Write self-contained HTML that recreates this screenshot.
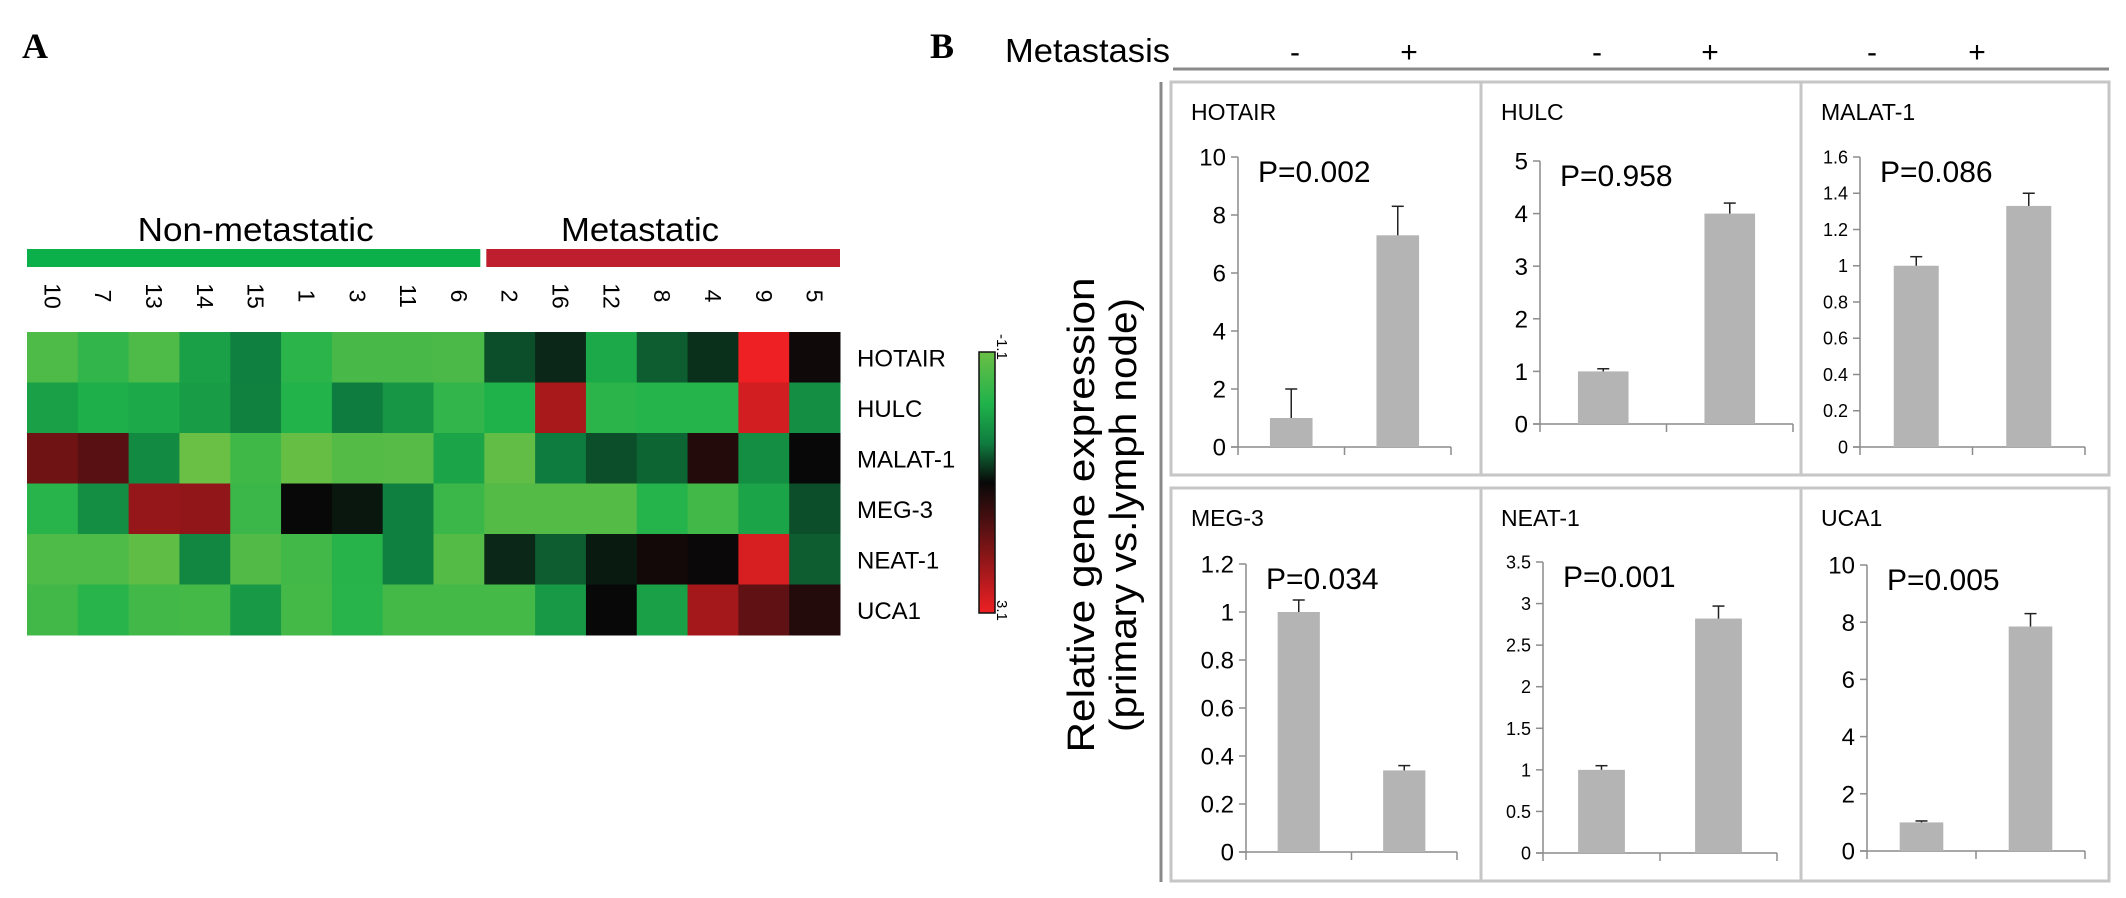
<!DOCTYPE html>
<html><head><meta charset="utf-8"><style>
html,body{margin:0;padding:0;background:#fff;}
svg{display:block;font-family:"Liberation Sans",Arial,sans-serif;}
</style></head><body>
<svg id="fig" width="2126" height="898" viewBox="0 0 2126 898" xmlns="http://www.w3.org/2000/svg">
<rect x="0" y="0" width="2126" height="898" fill="#fff"/>
<text x="22" y="58" font-family="Liberation Serif, serif" font-weight="bold" font-size="36">A</text>
<text x="930" y="58" font-family="Liberation Serif, serif" font-weight="bold" font-size="36">B</text>
<g id="heat"></g>
<g id="bars"></g>
</svg>
<script>
// ---------- Heatmap data ----------
const sampleLabels = ["10","7","13","14","15","1","3","11","6","2","16","12","8","4","9","5"];
const geneLabels = ["HOTAIR","HULC","MALAT-1","MEG-3","NEAT-1","UCA1"];
const rowHOTAIR = [-0.85,-0.7,-0.85,-0.5,-0.32,-0.66,-0.82,-0.82,-0.83,-0.18,-0.08,-0.55,-0.22,-0.1,1.0,0.03];
const rowHULC   = [-0.5,-0.58,-0.55,-0.48,-0.33,-0.62,-0.3,-0.45,-0.7,-0.6,0.7,-0.66,-0.63,-0.63,0.88,-0.4];
const rowMALAT1 = [0.45,0.35,-0.38,-1.0,-0.77,-0.98,-0.88,-0.9,-0.52,-0.95,-0.3,-0.18,-0.24,0.12,-0.4,0.0];
const rowMEG3   = [-0.65,-0.4,0.62,0.6,-0.75,0.0,-0.04,-0.32,-0.75,-0.88,-0.88,-0.88,-0.63,-0.78,-0.52,-0.18];
const rowNEAT1  = [-0.85,-0.85,-0.94,-0.36,-0.87,-0.78,-0.64,-0.32,-0.88,-0.08,-0.22,-0.05,0.05,0.01,0.9,-0.22];
const rowUCA1   = [-0.78,-0.65,-0.78,-0.8,-0.46,-0.8,-0.65,-0.8,-0.8,-0.8,-0.46,0.0,-0.5,0.68,0.38,0.12];
const nonMetCount = 9;

// ---------- Bar chart data ----------
const panelNames = ["HOTAIR","HULC","MALAT-1","MEG-3","NEAT-1","UCA1"];
const axisMax  = [10,5,1.6,1.2,3.5,10];
const axisStep = [2,1,0.2,0.2,0.5,2];
const negMeans = [1.0,1.0,1.0,1.0,1.0,1.0];
const posMeans = [7.3,4.0,1.33,0.34,2.82,7.85];
const negErrs  = [1.0,0.05,0.05,0.05,0.05,0.05];
const posErrs  = [1.0,0.2,0.07,0.02,0.15,0.45];
const pLabels  = ["P=0.002","P=0.958","P=0.086","P=0.034","P=0.001","P=0.005"];

const NS="http://www.w3.org/2000/svg";
function mk(tag, attrs, parent, txt){
  const e=document.createElementNS(NS,tag);
  for(const k in attrs) e.setAttribute(k,attrs[k]);
  if(txt!==undefined) e.textContent=txt;
  parent.appendChild(e); return e;
}
function lerp(a,b,t){return a.map((v,i)=>Math.round(v+(b[i]-v)*t));}
const stops=[[-1,[106,191,69]],[-0.6,[31,178,75]],[-0.3,[15,124,63]],[0,[8,8,8]],[0.5,[122,20,22]],[1,[238,32,36]]];
function colorOf(v){
  v=Math.max(-1,Math.min(1,v));
  for(let i=0;i<stops.length-1;i++){
    if(v<=stops[i+1][0]){const t=(v-stops[i][0])/(stops[i+1][0]-stops[i][0]);const c=lerp(stops[i][1],stops[i+1][1],t);return `rgb(${c[0]},${c[1]},${c[2]})`;}
  }
  return "rgb(238,32,36)";
}

// ---------- Heatmap ----------
(function(){
  const g=document.getElementById('heat');
  const rows=[rowHOTAIR,rowHULC,rowMALAT1,rowMEG3,rowNEAT1,rowUCA1];
  const x0=27, x1=840, y0=332, y1=635;
  const cw=(x1-x0)/sampleLabels.length, rh=(y1-y0)/geneLabels.length;
  const xSplit=x0+nonMetCount*cw;
  let t;
  t=mk('rect',{x:x0,y:249,width:xSplit-x0-4,height:18,fill:'#0cb04a'},g);
  
  
  t=mk('rect',{x:xSplit+2,y:249,width:x1-xSplit-2,height:18,fill:'#be1e2d'},g);
  
  
  t=mk('text',{x:(x0+xSplit)/2,y:241,'font-size':33,'text-anchor':'middle',textLength:236,lengthAdjust:'spacingAndGlyphs'},g,'Non-metastatic');
  
  
  t=mk('text',{x:640,y:241,'font-size':33,'text-anchor':'middle',textLength:158,lengthAdjust:'spacingAndGlyphs'},g,'Metastatic');
  
  
  sampleLabels.forEach((s,i)=>{
    const cx=x0+(i+0.5)*cw;
    const tt=mk('text',{x:0,y:0,'font-size':23,'text-anchor':'middle',transform:`translate(${cx-8},296) rotate(90)`},g,s);
    
    
  });
  rows.forEach((r,ri)=>{
    r.forEach((v,ci)=>{
      const c=mk('rect',{x:x0+ci*cw,y:y0+ri*rh,width:cw+0.5,height:rh+0.5,fill:colorOf(v)},g);
      
      
    });
    const lt=mk('text',{x:857,y:y0+(ri+0.5)*rh+9,'font-size':24},g,geneLabels[ri]);
    
    
  });
  // colorbar
  const defs=mk('defs',{},g);
  const lg=mk('linearGradient',{id:'cbg',x1:0,y1:0,x2:0,y2:1},defs);
  stops.forEach(s=>{mk('stop',{offset:((s[0]+1)/2*100)+'%','stop-color':`rgb(${s[1].join(',')})`},lg);});
  t=mk('rect',{x:979,y:352,width:16,height:261,fill:'url(#cbg)',stroke:'#111','stroke-width':1.5},g);
  
  
  t=mk('text',{x:0,y:0,'font-size':15,transform:'translate(997,334) rotate(90)'},g,'-1.1');
  
  
  t=mk('text',{x:0,y:0,'font-size':15,transform:'translate(997,600) rotate(90)'},g,'3.1');
  
  
})();

// ---------- Bar panels ----------
(function(){
  const g=document.getElementById('bars');
  let t;
  t=mk('text',{x:1005,y:62,'font-size':33,textLength:165,lengthAdjust:'spacingAndGlyphs'},g,'Metastasis');
  
  
  t=mk('line',{x1:1173,y1:69,x2:2109,y2:69,stroke:'#8a8a8a','stroke-width':3},g);
  
  
  t=mk('line',{x1:1161,y1:82,x2:1161,y2:882,stroke:'#8a8a8a','stroke-width':3},g);
  
  
  t=mk('text',{x:0,y:0,'font-size':38,'text-anchor':'middle',textLength:475,lengthAdjust:'spacingAndGlyphs',transform:'translate(1094,515) rotate(-90)'},g,'Relative gene expression');
  
  
  t=mk('text',{x:0,y:0,'font-size':38,'text-anchor':'middle',textLength:434,lengthAdjust:'spacingAndGlyphs',transform:'translate(1136,515) rotate(-90)'},g,'(primary vs.lymph node)');
  
  
  [[1295,1409],[1597,1710],[1872,1977]].forEach((p,i)=>{
    const a=mk('text',{x:p[0],y:62,'font-size':30,'text-anchor':'middle'},g,'-');
    
    
    const b=mk('text',{x:p[1],y:62,'font-size':30,'text-anchor':'middle'},g,'+');
    
    
  });
  // layout: [boxL, boxT, boxR, boxB, axisX, axisTopY, axisZeroY, axisEndX, tickFont]
  const layout=[
    [1171,82,1481,475,1238,157,447,1451,24],
    [1481,82,1801,475,1540,161,424,1793,24],
    [1801,82,2109,475,1860,157,447,2085,18],
    [1171,488,1481,881,1246,564,852,1457,24],
    [1481,488,1801,881,1543,562,853,1777,18],
    [1801,488,2109,881,1867,565,851,2085,24]
  ];
  panelNames.forEach((name,i)=>{
    const L=layout[i];
    const pg=mk('g',{},g);
    
    
    const box=mk('rect',{x:L[0],y:L[1],width:L[2]-L[0],height:L[3]-L[1],fill:'none',stroke:'#c6c6c6','stroke-width':3},pg);
    
    
    const tt=mk('text',{x:L[0]+20,y:L[1]+38,'font-size':23},pg,name);
    
    
    const yS=v=>L[6]-(v/axisMax[i])*(L[6]-L[5]);
    const ax=L[4], ae=L[7];
    const yl=mk('line',{x1:ax,y1:L[5],x2:ax,y2:L[6],stroke:'#8c8c8c','stroke-width':1.5},pg);
    
    
    const xl=mk('line',{x1:ax-7,y1:L[6],x2:ae,y2:L[6],stroke:'#8c8c8c','stroke-width':1.5},pg);
    
    
    [0,0.5,1].forEach(f=>{
      const xx=ax+(ae-ax)*f;
      const tk=mk('line',{x1:xx,y1:L[6],x2:xx,y2:L[6]+8,stroke:'#8c8c8c','stroke-width':1.5},pg);
      
      
    });
    const n=Math.round(axisMax[i]/axisStep[i]);
    for(let k=0;k<=n;k++){
      const v=parseFloat((k*axisStep[i]).toFixed(2));
      const yy=yS(v);
      const tk=mk('line',{x1:ax-7,y1:yy,x2:ax,y2:yy,stroke:'#8c8c8c','stroke-width':1.5},pg);
      
      
      const lb=mk('text',{x:ax-12,y:yy+L[8]*0.36,'font-size':L[8],'text-anchor':'end'},pg,String(v));
      
      
    }
    const cat=(ae-ax)/2, bw=cat*0.4;
    [[negMeans[i],negErrs[i],'neg'],[posMeans[i],posErrs[i],'pos']].forEach((d,j)=>{
      const cx=ax+cat*(j+0.5);
      const top=yS(d[0]);
      const b=mk('rect',{x:cx-bw/2,y:top,width:bw,height:L[6]-top,fill:'#b4b4b4'},pg);
      
      
      const et=yS(d[0]+d[1]);
      const e1=mk('line',{x1:cx,y1:top,x2:cx,y2:et,stroke:'#222','stroke-width':1.5},pg);
      
      
      const e2=mk('line',{x1:cx-6,y1:et,x2:cx+6,y2:et,stroke:'#222','stroke-width':1.5},pg);
      
      
    });
    const pt=mk('text',{x:ax+20,y:L[5]+25,'font-size':30},pg,pLabels[i]);
    
    
  });
})();
</script>
</body></html>
